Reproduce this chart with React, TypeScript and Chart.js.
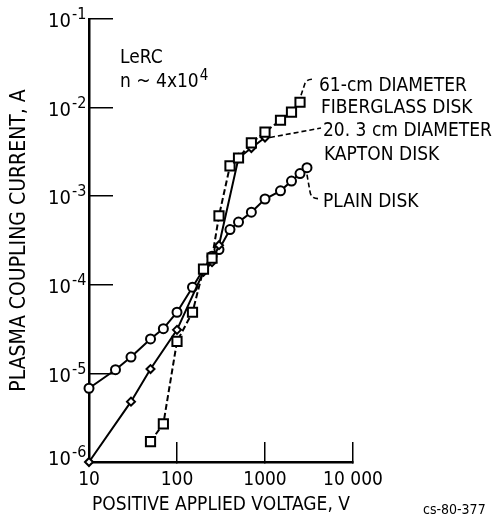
import React, { useEffect, useRef } from 'react';
import { Chart, registerables } from 'chart.js';

Chart.register(...registerables);

const FONT = "'DejaVu Sans Condensed', 'Liberation Sans Narrow', 'DejaVu Sans', sans-serif";

// Plain disk (circles, solid line)
const X_PLAIN = [10, 20, 30, 50, 70, 100, 150, 200, 250, 300, 400, 500, 700, 1000, 1500, 2000, 2500, 3000];
const Y_PLAIN = [6.8e-6, 1.1e-5, 1.53e-5, 2.45e-5, 3.2e-5, 4.9e-5, 9.4e-5, 1.5e-4, 2.1e-4, 2.5e-4, 4.2e-4, 5.1e-4, 6.6e-4, 9.3e-4, 1.15e-3, 1.48e-3, 1.8e-3, 2.1e-3];

// 20.3 cm Kapton disk (diamonds, solid line)
const X_KAPTON = [10, 30, 50, 100, 200, 250, 300, 500, 700, 1000];
const Y_KAPTON = [1e-6, 4.8e-6, 1.12e-5, 3.1e-5, 1.4e-4, 1.8e-4, 2.8e-4, 2.7e-3, 3.5e-3, 4.6e-3];

// 61 cm fiberglass disk (squares, dashed line)
const X_FIBER = [50, 70, 100, 150, 200, 250, 300, 400, 500, 700, 1000, 1500, 2000, 2500];
const Y_FIBER = [1.7e-6, 2.7e-6, 2.3e-5, 4.9e-5, 1.5e-4, 2.0e-4, 6.0e-4, 2.2e-3, 2.7e-3, 4.0e-3, 5.3e-3, 7.2e-3, 8.9e-3, 1.15e-2];

const X_TICK_VALUES = [10, 100, 1000, 10000];
const X_TICK_LABELS = ['10', '100', '1000', '10 000'];
const Y_TICK_VALUES = [1e-6, 1e-5, 1e-4, 1e-3, 1e-2, 1e-1];
const Y_TICK_EXPONENTS = ['-6', '-5', '-4', '-3', '-2', '-1'];

const X_TITLE = 'POSITIVE APPLIED VOLTAGE, V';
const Y_TITLE = 'PLASMA COUPLING CURRENT, A';
const FIBER_LABEL = ['61-cm DIAMETER', 'FIBERGLASS DISK'];
const KAPTON_LABEL = ['20. 3 cm DIAMETER', 'KAPTON DISK'];
const PLAIN_LABEL = 'PLAIN DISK';
const NOTE_1 = 'LeRC';
const NOTE_2 = 'n ~ 4x10';
const NOTE_2_EXP = '4';
const FIG_ID = 'cs-80-377';

export default function App() {
  const ref = useRef<HTMLCanvasElement>(null);

  useEffect(() => {
    const canvas = ref.current!;
    const pts = (xs: number[], ys: number[]) => xs.map((x, i) => ({ x, y: ys[i] }));

    const annot = {
      id: 'annot',
      afterDraw(chart: any) {
        const ctx = chart.ctx as CanvasRenderingContext2D;
        const xs = chart.scales.x;
        const ys = chart.scales.y;
        ctx.save();
        ctx.fillStyle = '#000';
        ctx.strokeStyle = '#000';

        // y tick labels with superscripts
        Y_TICK_VALUES.forEach((v, i) => {
          const py = ys.getPixelForValue(v);
          const dy = i === 0 ? -2 : 3;
          ctx.font = `20px ${FONT}`;
          ctx.textAlign = 'right';
          ctx.textBaseline = 'middle';
          ctx.fillText('10', 71, py + dy);
          ctx.font = `16px ${FONT}`;
          ctx.textAlign = 'left';
          ctx.fillText(Y_TICK_EXPONENTS[i], 72, py + dy - 7);
        });

        // notes
        ctx.font = `19px ${FONT}`;
        ctx.textAlign = 'left';
        ctx.textBaseline = 'middle';
        ctx.fillText(NOTE_1, 120, 58);
        ctx.fillText(NOTE_2, 120, 82);
        const w = ctx.measureText(NOTE_2).width;
        ctx.font = `15px ${FONT}`;
        ctx.fillText(NOTE_2_EXP, 120 + w + 1, 76);

        // series labels
        ctx.font = `19px ${FONT}`;
        ctx.fillText(FIBER_LABEL[0], 319, 86);
        ctx.fillText(FIBER_LABEL[1], 321, 108);
        ctx.fillText(KAPTON_LABEL[0], 323, 131);
        ctx.fillText(KAPTON_LABEL[1], 324, 155);
        ctx.fillText(PLAIN_LABEL, 323, 202);

        ctx.font = `14px ${FONT}`;
        ctx.fillText(FIG_ID, 423, 510);

        // leaders
        ctx.lineWidth = 1.6;
        ctx.setLineDash([5, 3]);
        const fx = xs.getPixelForValue(X_FIBER[X_FIBER.length - 1]);
        const fy = ys.getPixelForValue(Y_FIBER[Y_FIBER.length - 1]);
        ctx.beginPath();
        ctx.moveTo(fx + 1, fy - 7);
        ctx.lineTo(fx + 5, fy - 19);
        ctx.quadraticCurveTo(fx + 7, fy - 23, fx + 12, fy - 23);
        ctx.stroke();

        const kx = xs.getPixelForValue(X_KAPTON[X_KAPTON.length - 1]);
        const ky = ys.getPixelForValue(Y_KAPTON[Y_KAPTON.length - 1]);
        ctx.beginPath();
        ctx.moveTo(kx + 5, ky);
        ctx.lineTo(321, 128);
        ctx.stroke();

        const px = xs.getPixelForValue(X_PLAIN[X_PLAIN.length - 1]);
        const py = ys.getPixelForValue(Y_PLAIN[Y_PLAIN.length - 1]);
        ctx.beginPath();
        ctx.moveTo(px, py + 7);
        ctx.lineTo(px + 3, py + 24);
        ctx.quadraticCurveTo(px + 4, py + 31, px + 11, py + 31);
        ctx.stroke();
        ctx.restore();
      },
    };

    const common = {
      borderColor: '#000',
      borderWidth: 2,
      pointBorderColor: '#000',
      pointBackgroundColor: '#fff',
      pointBorderWidth: 2,
      tension: 0,
      clip: false as const,
    };

    const chart = new Chart(canvas, {
      type: 'line',
      data: {
        datasets: [
          { ...common, label: FIBER_LABEL.join(' '), data: pts(X_FIBER, Y_FIBER), borderDash: [6, 3], pointStyle: 'rect', pointRadius: 6.5 },
          { ...common, label: KAPTON_LABEL.join(' '), data: pts(X_KAPTON, Y_KAPTON), pointStyle: 'rectRot', pointRadius: 4 },
          { ...common, label: PLAIN_LABEL, data: pts(X_PLAIN, Y_PLAIN), pointStyle: 'circle', pointRadius: 4.5 },
        ],
      },
      options: {
        responsive: false,
        animation: false,
        devicePixelRatio: 1,
        layout: { padding: { left: 0, top: 19, right: 145, bottom: 0 } },
        plugins: { legend: { display: false }, tooltip: { enabled: false } },
        scales: {
          x: {
            type: 'logarithmic',
            min: 10,
            max: 10000,
            afterBuildTicks: (s: any) => { s.ticks = X_TICK_VALUES.map((v) => ({ value: v })); },
            afterFit: (s: any) => { s.height = 61; },
            ticks: {
              autoSkip: false,
              maxRotation: 0,
              padding: 27,
              color: '#000',
              font: { size: 19, family: FONT },
              callback: (v: any) => X_TICK_LABELS[X_TICK_VALUES.indexOf(Number(v))] ?? '',
            },
            grid: { drawOnChartArea: false, drawTicks: true, tickLength: -20, color: '#000', lineWidth: 1.5 },
            border: { display: true, color: '#000', width: 2.5 },
            title: { display: true, text: X_TITLE, color: '#000', font: { size: 19, family: FONT }, padding: { top: 0, bottom: 7 } },
          },
          y: {
            type: 'logarithmic',
            min: 1e-6,
            max: 1e-1,
            afterBuildTicks: (s: any) => { s.ticks = Y_TICK_VALUES.map((v) => ({ value: v })); },
            afterFit: (s: any) => { s.width = 89; },
            ticks: { display: false },
            grid: { drawOnChartArea: false, drawTicks: true, tickLength: -24, color: '#000', lineWidth: 1.5 },
            border: { display: true, color: '#000', width: 2.5 },
            title: { display: true, text: Y_TITLE, color: '#000', font: { size: 21, family: FONT }, padding: { top: 7, bottom: 0 } },
          },
        },
      },
      plugins: [annot],
    } as any);

    return () => chart.destroy();
  }, []);

  return (
    <div style={{ position: 'absolute', left: 0, top: 0, width: 498, height: 523, background: '#fff' }}>
      <canvas ref={ref} width={498} height={523} style={{ display: 'block' }} />
    </div>
  );
}
